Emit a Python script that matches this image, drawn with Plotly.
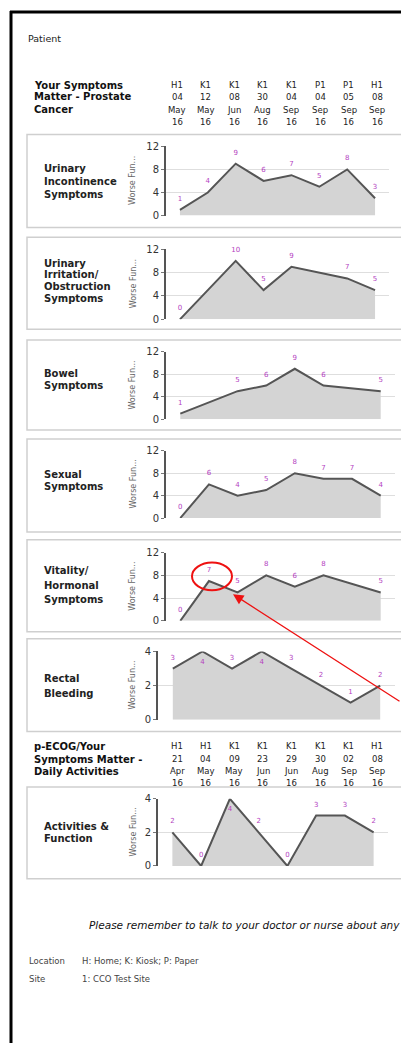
import plotly.graph_objects as go

W, H = 401, 1043

# ---------------- data ----------------
hdr1_loc = ["H1", "K1", "K1", "K1", "K1", "P1", "P1", "H1"]
hdr1_day = ["04", "12", "08", "30", "04", "04", "05", "08"]
hdr1_mon = ["May", "May", "Jun", "Aug", "Sep", "Sep", "Sep", "Sep"]
hdr1_yr = ["16", "16", "16", "16", "16", "16", "16", "16"]

hdr2_loc = ["H1", "H1", "K1", "K1", "K1", "K1", "K1", "H1"]
hdr2_day = ["21", "04", "09", "23", "29", "30", "02", "08"]
hdr2_mon = ["Apr", "May", "May", "Jun", "Jun", "Aug", "Sep", "Sep"]
hdr2_yr = ["16", "16", "16", "16", "16", "16", "16", "16"]

urinary_incontinence = [1, 4, 9, 6, 7, 5, 8, 3]
urinary_irritation = [0, None, 10, 5, 9, None, 7, 5]
bowel = [1, None, 5, 6, 9, 6, None, 5]
sexual = [0, 6, 4, 5, 8, 7, 7, 4]
vitality = [0, 7, 5, 8, 6, 8, None, 5]
rectal_bleeding = [3, 4, 3, 4, 3, 2, 1, 2]
activities = [2, 0, 4, 2, 0, 3, 3, 2]

ticks_12 = [0, 4, 8, 12]
ticks_4 = [0, 2, 4]

labels_incontinence = ["Urinary", "Incontinence", "Symptoms"]
labels_irritation = ["Urinary", "Irritation/", "Obstruction", "Symptoms"]
labels_bowel = ["Bowel", "Symptoms"]
labels_sexual = ["Sexual", "Symptoms"]
labels_vitality = ["Vitality/", "Hormonal", "Symptoms"]
labels_rectal = ["Rectal", "Bleeding"]
labels_activities = ["Activities &", "Function"]

# ---------------- geometry (pixels) ----------------
def fx(px):
    return px / W


def fy(py):
    return 1 - py / H


FONT = "DejaVu Sans"
LINE = "#555555"
FILL = "#d4d4d4"
LBL = "#b43fbf"

panels = [
    dict(v=urinary_incontinence, t=ticks_12, lab=labels_incontinence, ly=[164, 178, 191],
         x0=166, x1=389, yb=212, yt=142, b0=130, b1=224),
    dict(v=urinary_irritation, t=ticks_12, lab=labels_irritation, ly=[260, 272, 284, 296],
         x0=166, x1=389, yb=317, yt=246, b0=234, b1=327),
    dict(v=bowel, t=ticks_12, lab=labels_bowel, ly=[372, 384],
         x0=166, x1=395, yb=418, yt=350, b0=338, b1=429),
    dict(v=sexual, t=ticks_12, lab=labels_sexual, ly=[474, 486],
         x0=166, x1=395, yb=518, yt=450, b0=438, b1=532),
    dict(v=vitality, t=ticks_12, lab=labels_vitality, ly=[571, 586, 600],
         x0=166, x1=395, yb=622, yt=553, b0=540, b1=633),
    dict(v=rectal_bleeding, t=ticks_4, lab=labels_rectal, ly=[680, 695],
         x0=158, x1=395, yb=722, yt=653, b0=640, b1=734),
    dict(v=activities, t=ticks_4, lab=labels_activities, ly=[830, 842],
         x0=158, x1=388, yb=870, yt=802, b0=790, b1=883),
]

fig = go.Figure()
annotations = []
shapes = []
layout_axes = {}

for i, p in enumerate(panels):
    n = i + 1
    xa = "x" if n == 1 else f"x{n}"
    ya = "y" if n == 1 else f"y{n}"
    xs = list(range(len(p["v"])))
    vals = p["v"]
    ymax = max(p["t"])
    fig.add_trace(go.Scatter(
        x=xs, y=vals, xaxis=xa, yaxis=ya, mode="lines", fill="tozeroy",
        fillcolor=FILL, line=dict(color=LINE, width=2), connectgaps=True,
        hoverinfo="skip", showlegend=False))
    txt = ["" if v is None else str(v) for v in vals]
    pos = ["bottom center" if (v is not None and v >= ymax) else "top center" for v in vals]
    fig.add_trace(go.Scatter(
        x=xs, y=vals, xaxis=xa, yaxis=ya, mode="markers+text", text=txt,
        textposition=pos, textfont=dict(family=FONT, size=7, color=LBL),
        marker=dict(size=10, color="rgba(0,0,0,0)"), cliponaxis=False,
        hoverinfo="skip", showlegend=False))
    layout_axes["xaxis" if n == 1 else f"xaxis{n}"] = dict(
        domain=[fx(p["x0"]), fx(p["x1"])], range=[-0.5, 7.5], anchor=ya,
        showgrid=False, zeroline=False, showline=False, showticklabels=False, fixedrange=True)
    layout_axes["yaxis" if n == 1 else f"yaxis{n}"] = dict(
        domain=[fy(p["yb"]), fy(p["yt"])], range=[0, ymax], anchor=xa,
        tickvals=p["t"], showgrid=True, gridcolor="#dedede", gridwidth=1,
        zeroline=False, showline=True, linecolor="#555555", linewidth=2,
        ticks="outside", ticklen=3, tickcolor="#777777",
        tickfont=dict(family=FONT, size=10, color="#333333"), fixedrange=True)
    shapes.append(dict(type="rect", xref="paper", yref="paper",
                       x0=fx(27), x1=fx(420), y0=fy(p["b1"]), y1=fy(p["b0"]),
                       line=dict(color="#cfcfcf", width=1.5), layer="below"))
    for line, ly in zip(p["lab"], p["ly"]):
        annotations.append(dict(text=f"<b>{line}</b>", x=fx(42), y=fy(ly), xref="paper", yref="paper",
                                xanchor="left", yanchor="middle", showarrow=False,
                                font=dict(family=FONT, size=10, color="#222222")))
    annotations.append(dict(text="Worse Fun...", x=fx(133), y=fy((p["yb"] + p["yt"]) / 2),
                            xref="paper", yref="paper", textangle=-90, showarrow=False,
                            xanchor="center", yanchor="middle",
                            font=dict(family=FONT, size=8, color="#666666")))


def add_header(lines, line_ys, cols, col_ys, col_x0, col_dx):
    for line, ly in zip(lines, line_ys):
        annotations.append(dict(text=f"<b>{line}</b>", x=fx(32), y=fy(ly), xref="paper", yref="paper",
                                xanchor="left", yanchor="middle", showarrow=False,
                                font=dict(family=FONT, size=10, color="#111111")))
    for r, (row, ry) in enumerate(zip(cols, col_ys)):
        for c, t in enumerate(row):
            annotations.append(dict(text=t, x=fx(col_x0 + c * col_dx), y=fy(ry), xref="paper",
                                    yref="paper", xanchor="center", yanchor="middle",
                                    showarrow=False,
                                    font=dict(family=FONT, size=8.5, color="#222222")))


add_header(["Your Symptoms", "Matter - Prostate", "Cancer"], [80, 92, 105],
           [hdr1_loc, hdr1_day, hdr1_mon, hdr1_yr], [80, 92, 105, 117], 177, 28.6)
add_header(["p-ECOG/Your", "Symptoms Matter -", "Daily Activities"], [749, 762, 774],
           [hdr2_loc, hdr2_day, hdr2_mon, hdr2_yr], [749, 762, 774, 786], 177, 28.6)

annotations.append(dict(text="Patient", x=fx(26), y=fy(33), xref="paper", yref="paper",
                        xanchor="left", yanchor="middle", showarrow=False,
                        font=dict(family=FONT, size=9.5, color="#222222")))
annotations.append(dict(text="<i>Please remember to talk to your doctor or nurse about any</i>",
                        x=fx(87), y=fy(930), xref="paper", yref="paper",
                        xanchor="left", yanchor="middle", showarrow=False,
                        font=dict(family=FONT, size=10.5, color="#111111")))
for t, xx, yy in [("Location", 27, 966), ("H: Home; K: Kiosk; P: Paper", 80, 966),
                  ("Site", 27, 984), ("1: CCO Test Site", 80, 984)]:
    annotations.append(dict(text=t, x=fx(xx), y=fy(yy), xref="paper", yref="paper",
                            xanchor="left", yanchor="middle", showarrow=False,
                            font=dict(family=FONT, size=8.5, color="#444444")))

shapes.append(dict(type="circle", xref="paper", yref="paper",
                   x0=fx(192), x1=fx(232), y0=fy(591), y1=fy(563),
                   line=dict(color="#ee1111", width=2)))
annotations.append(dict(text="", x=fx(233), y=fy(595), xref="paper", yref="paper",
                        ax=175, ay=108, axref="pixel", ayref="pixel", showarrow=True,
                        arrowhead=2, arrowsize=1.6, arrowwidth=1.3, arrowcolor="#ee1111"))

shapes.append(dict(type="line", xref="paper", yref="paper", x0=fx(11), x1=fx(11),
                   y0=fy(5), y1=fy(1050), line=dict(color="#000000", width=3)))
shapes.append(dict(type="line", xref="paper", yref="paper", x0=fx(10), x1=fx(420),
                   y0=fy(6), y1=fy(6), line=dict(color="#000000", width=3)))

fig.update_layout(
    width=W, height=H, margin=dict(l=0, r=0, t=0, b=0),
    paper_bgcolor="white", plot_bgcolor="rgba(0,0,0,0)",
    showlegend=False, annotations=annotations, shapes=shapes, **layout_axes)

fig.write_html("out.html", config={"displayModeBar": False},
               post_script="document.body.style.margin='0';document.body.style.overflow='hidden';")
